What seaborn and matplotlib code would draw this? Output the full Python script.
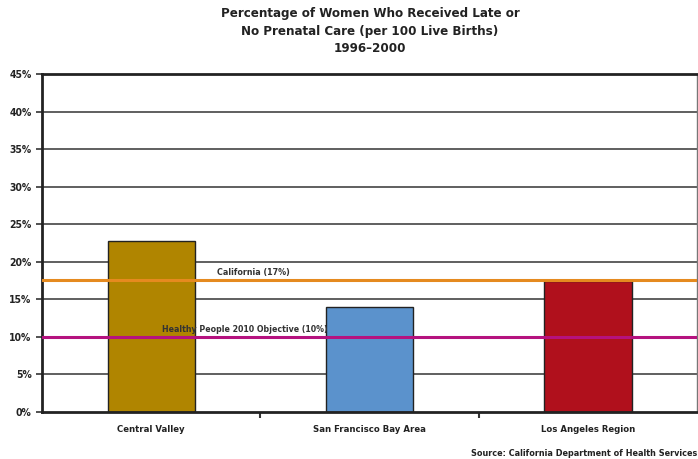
import matplotlib
matplotlib.use('Agg')
import matplotlib.pyplot as plt
import seaborn as sns
import pandas as pd
from matplotlib.ticker import FuncFormatter

# data
regions = ['Central Valley', 'San Francisco Bay Area', 'Los Angeles Region']
late_care_pct = [22.8, 14.0, 17.5]
bar_colors = ['#B08500', '#5B92CC', '#B0101C']
california_pct = 17.6
objective_pct = 10.0
yticks = [0, 5, 10, 15, 20, 25, 30, 35, 40, 45]

sns.set_style('white')
plt.rcParams['font.family'] = ['DejaVu Sans']
plt.rcParams['font.stretch'] = 'condensed'
plt.rcParams['font.weight'] = 'bold'

df = pd.DataFrame({'region': regions, 'pct': late_care_pct})

fig = plt.figure(figsize=(6.98, 4.59), dpi=100)
ax = fig.add_axes([42 / 698, 1 - 412 / 459, 655 / 698, 338 / 459])

for y in yticks[1:]:
    ax.axhline(y, color='#444444', lw=1.2, zorder=0)

sns.barplot(data=df, x='region', y='pct', hue='region', palette=bar_colors,
            saturation=1, width=0.4, edgecolor='#222222', linewidth=1.0,
            legend=False, ax=ax, zorder=2)

ax.axhline(california_pct, color='#E58A1F', lw=2.2, zorder=3)
ax.axhline(objective_pct, color='#B5127F', lw=2.2, zorder=3)
ax.text(0.3, california_pct + 0.6, 'California (17%)', fontsize=6.4,
        fontweight='bold', color='#333333', zorder=4)
ax.text(0.05, objective_pct + 0.6, 'Healthy People 2010 Objective (10%)',
        fontsize=6.3, fontweight='bold', color='#333333', zorder=4)

ax.set_xlim(-0.5, 2.5)
ax.set_ylim(0, 45)
ax.set_yticks(yticks)
ax.yaxis.set_major_formatter(FuncFormatter(lambda v, p: f'{int(v)}%'))
ax.set_xticks([0, 1, 2])
ax.set_xticklabels(regions, fontsize=6.8, fontweight='bold', color='#222222')
ax.set_xticks([0.5, 1.5], minor=True)
ax.tick_params(axis='x', which='major', length=0, pad=9)
ax.tick_params(axis='x', which='minor', length=4, width=1.5, color='#333333',
               direction='out', bottom=True)
ax.tick_params(axis='y', length=4, width=1.2, color='#333333', direction='out',
               left=True, labelsize=7.5, labelcolor='#222222')
for lab in ax.get_yticklabels():
    lab.set_fontweight('bold')
ax.set_xlabel('')
ax.set_ylabel('')

for side in ['left', 'bottom', 'top']:
    ax.spines[side].set_color('#222222')
    ax.spines[side].set_linewidth(2)
ax.spines['right'].set_color('#777777')
ax.spines['right'].set_linewidth(1)

fig.text(370 / 698, 1 - 7 / 459,
         'Percentage of Women Who Received Late or\nNo Prenatal Care (per 100 Live Births)\n1996\u20132000',
         ha='center', va='top', fontsize=9.5, fontweight='bold', color='#222222',
         linespacing=1.45)
fig.text(697 / 698, 1 - 453 / 459, 'Source: California Department of Health Services',
         ha='right', va='center', fontsize=6.5, fontweight='bold', color='#222222')

fig.savefig('out.png', dpi=100)
